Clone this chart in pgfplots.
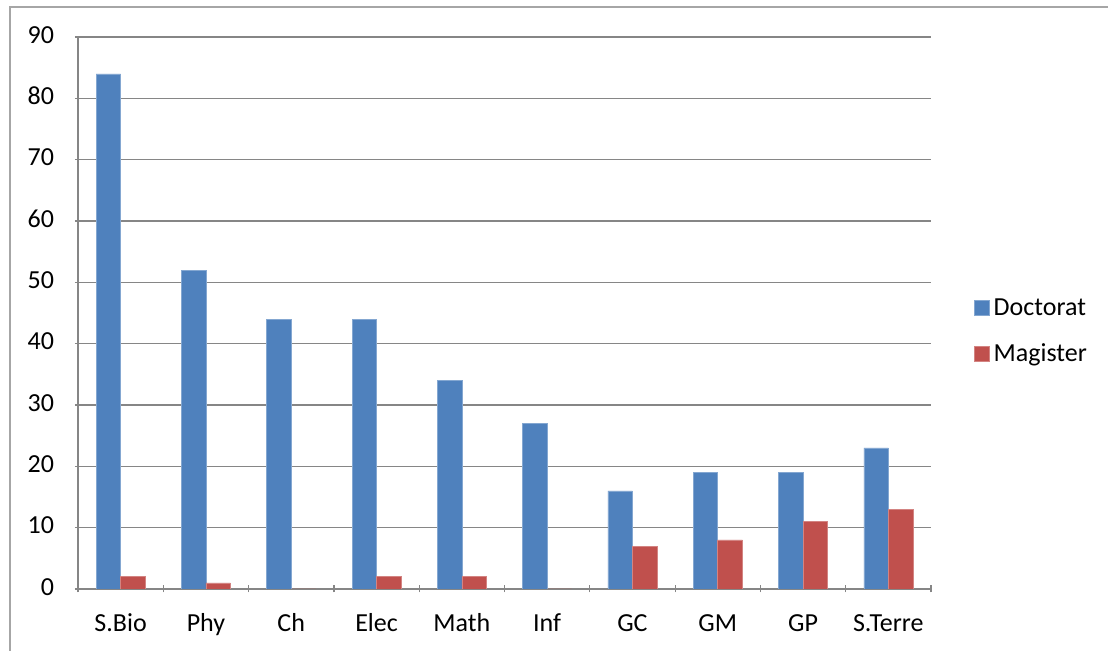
\documentclass[border=0pt]{standalone}
\usepackage{fontspec}
\setmainfont{Carlito}
\usepackage{pgfplots}
\pgfplotsset{compat=1.18}
\definecolor{blu}{HTML}{4F81BD}
\definecolor{rd}{HTML}{C0504D}
\definecolor{grd}{HTML}{868686}
\begin{document}
\begin{tikzpicture}[x=1pt,y=1pt]
\useasboundingbox (0,0) rectangle (554,325.5);
\draw[color=black!35, line width=0.6pt] (5,-5) -- (5,322) -- (560,322);
\begin{axis}[at={(39pt,31pt)}, anchor=south west, scale only axis,
  width=426.5pt, height=276pt,
  ybar=0pt, bar width=12.25pt,
  xmin=-0.5, xmax=9.5, ymin=0, ymax=90, ytick={0,10,...,90},
  xtick={0,...,9}, xticklabels={S.Bio,Phy,Ch,Elec,Math,Inf,GC,GM,GP,S.Terre},
  minor xtick={-0.5,0.5,...,9.5},
  major x tick style={draw=none},
  tick align=outside, major tick length=3pt, minor tick length=3.5pt,
  tick style={grd, line width=0.6pt},
  ymajorgrids, grid style={grd, line width=0.6pt},
  axis x line=bottom, axis y line=left, axis line style={-, grd, line width=0.6pt},
  ticklabel style={font=\fontsize{13}{15.6}\selectfont},
  typeset ticklabels with strut,
  /pgf/number format/assume math mode=true,
  x tick label style={yshift=-5.5pt},
  y tick label style={xshift=-7pt},
  legend style={at={(axis description cs:1.05,0.467)}, anchor=west, draw=none, fill=none,
    inner sep=0pt, font=\fontsize{13}{15.6}\selectfont, cells={anchor=west}, row sep=8.5pt},
  legend image code/.code={\fill[#1] (0pt,-3.75pt) rectangle (7.5pt,3.75pt);},
]
\addplot[fill=blu, draw=blu!70!white, line width=0.3pt] coordinates {(0,84) (1,52) (2,44) (3,44) (4,34) (5,27) (6,16) (7,19) (8,19) (9,23)};
\addplot[fill=rd, draw=rd!70!white, line width=0.3pt] coordinates {(0,2) (1,1) (2,0) (3,2) (4,2) (5,0) (6,7) (7,8) (8,11) (9,13)};
\legend{Doctorat,Magister}
\end{axis}
\end{tikzpicture}
\end{document}
